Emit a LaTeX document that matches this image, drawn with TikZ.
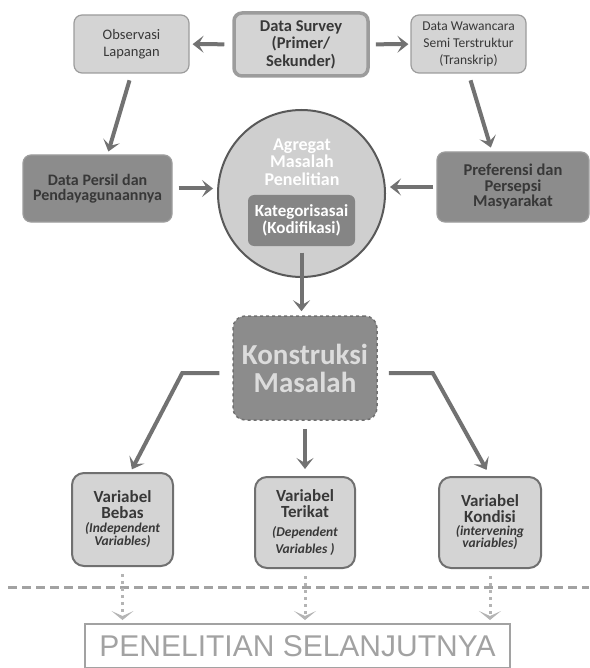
\documentclass[tikz,border=0pt]{standalone}
\usepackage{fontspec}
\setmainfont{Carlito}
\newfontfamily\arialfont{Liberation Sans}
\usetikzlibrary{arrows.meta,positioning,calc}
\definecolor{boxlight}{HTML}{D4D4D4}
\definecolor{boxdark}{HTML}{8C8C8C}
\definecolor{edgegray}{HTML}{9C9C9C}
\definecolor{edgedark}{HTML}{707070}
\definecolor{textdark}{HTML}{383838}
\definecolor{arrowgray}{HTML}{727272}
\definecolor{dotgray}{HTML}{B4B4B4}
\definecolor{circfill}{HTML}{CFCFCF}
\definecolor{konsttext}{HTML}{DCDCDC}
\newcommand{\vit}[1]{{\fontsize{13.5}{14}\selectfont\bfseries\itshape #1}}
\tikzset{
  block/.style={draw=edgegray,line width=1.2pt,rounded corners=8pt,align=center,fill=boxlight,text=textdark,inner sep=2pt},
  darkblock/.style={block,fill=boxdark,draw=boxdark!85!white,font=\bfseries\fontsize{16}{14.5}\selectfont},
  varblock/.style={block,draw=edgedark,line width=2pt,rounded corners=12pt,minimum height=91pt,font=\bfseries\fontsize{17}{16}\selectfont},
  arrow/.style={-{Stealth[length=11pt,width=17pt,inset=5pt]},line width=4pt,draw=arrowgray},
  dotarrow/.style={-{Stealth[length=9pt,width=22pt,inset=5pt]},line width=3pt,draw=dotgray,dash pattern=on 3pt off 4pt},
  sepline/.style={line width=3pt,draw=dotgray!90!black,dash pattern=on 9pt off 5pt},
}

\begin{document}
\begin{tikzpicture}[x=1pt,y=-1pt]
	\useasboundingbox (0,0) rectangle (589,668);
	% sumber data
	\node[block,minimum width=115pt,minimum height=58pt,font=\fontsize{14.5}{16.5}\selectfont] (obs) at (131.5,44) {Observasi\\Lapangan};
	\node[block,line width=3.5pt,minimum width=134pt,minimum height=63pt,font=\bfseries\fontsize{16.5}{17.5}\selectfont] (survey) at (301,44.5) {Data Survey\\(Primer/\\Sekunder)};
	\node[block,minimum width=115pt,minimum height=58pt,font=\fontsize{13.5}{17}\selectfont] (waw) at (468.5,44) {Data Wawancara\\Semi Terstruktur\\(Transkrip)};
	\node[darkblock,minimum width=149pt,minimum height=67pt] (persil) at (97.5,188.5) {Data Persil dan\\Pendayagunaannya};
	\node[darkblock,font=\bfseries\fontsize{16.5}{15.5}\selectfont,minimum width=152pt,minimum height=70pt] (pref) at (513,187) {Preferensi dan\\Persepsi\\Masyarakat};
	% agregat
	\node[circle,draw=black!65,line width=2pt,fill=circfill,minimum size=167pt] (agg) at (301.5,193.5) {};
	\node[align=center,text=white,font=\bfseries\fontsize{18}{17.5}\selectfont] (aggtxt) at (302,162) {Agregat\\Masalah\\Penelitian};
	\node[block,draw=none,fill=boxdark!95!black,text=white,rounded corners=6pt,minimum width=107pt,minimum height=51pt,font=\bfseries\fontsize{17}{17}\selectfont] (kat) at (301.5,220.5) {Kategorisasai\\(Kodifikasi)};
	\node[block,dashed,draw=edgedark,line width=1.5pt,fill=boxdark,text=konsttext,rounded corners=12pt,minimum width=144pt,minimum height=104pt,font=\bfseries\fontsize{29}{28}\selectfont] (konst) at (305,368) {Konstruksi\\Masalah};
	% variabel
	\node[varblock,minimum width=101pt,minimum height=93pt] (bebas) at (122.5,519.5) {Variabel\\Bebas\\[-2pt]\vit{(Independent}\\[-3pt]\vit{Variables)}};
	\node[varblock,minimum width=100pt] (terikat) at (305,522.5) {Variabel\\Terikat\\[3pt]\vit{(Dependent}\\[1pt]\vit{Variables )}};
	\node[varblock,minimum width=102pt] (kondisi) at (490,522.5) {Variabel\\Kondisi\\[-3pt]\vit{(intervening}\\[-4pt]\vit{variables)}};
	\node[draw=dotgray!90!black,line width=2pt,text=dotgray!90!black,minimum width=425pt,minimum height=44pt,font=\arialfont\fontsize{30}{30}\selectfont] (pen) at (297.5,646) {PENELITIAN SELANJUTNYA};
	% panah
	\draw[arrow,shorten <=8pt,shorten >=3pt] (survey) -- (obs);
	\draw[arrow,shorten <=6pt,shorten >=2pt] (survey) -- (waw);
	\draw[arrow,shorten <=7pt,shorten >=3pt] (obs.south) -- ([xshift=10pt]persil.north);
	\draw[arrow,shorten <=7pt,shorten >=4pt] (waw.south) -- ([xshift=-21pt]pref.north);
	\draw[arrow,shorten <=6pt,shorten >=4pt] (persil.east) -- (persil.east -| agg.west);
	\draw[arrow,shorten <=3pt,shorten >=4pt] (pref.west) -- (pref.west -| agg.east);
	\draw[arrow,shorten <=6pt,shorten >=4pt] (kat.south) -- (kat.south |- konst.north);
	\draw[arrow,shorten >=3pt] ([xshift=-13pt,yshift=-5pt]konst.west) -- ++(-37,0) -- ([xshift=8pt]bebas.north);
	\draw[arrow,shorten >=7pt] ([xshift=11pt,yshift=-5pt]konst.east) -- ++(44,0) -- (kondisi.north);
	\draw[arrow,shorten <=8pt,shorten >=7pt] (konst.south) -- (terikat.north);
	% garis batas
	\coordinate (dashl) at (8,587);
	\coordinate (dashr) at (589,587);
	\draw[sepline] (dashl) -- (dashr);
	\foreach \v in {bebas,terikat,kondisi}
		\draw[dotarrow,shorten <=7pt,shorten >=3pt] (\v.south) -- (\v.south |- pen.north);
\end{tikzpicture}
\end{document}
